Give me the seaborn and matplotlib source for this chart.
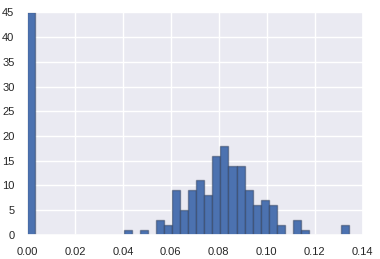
import numpy as np
import pandas as pd
import matplotlib
matplotlib.use("Agg")
import matplotlib.pyplot as plt
import seaborn as sns

# Histogram data (40 bins over 0 .. 0.1345)
bin_width = 0.1345 / 40
bin_index = [0, 12, 14, 16, 17, 18, 19, 20, 21, 22, 23, 24, 25, 26, 27, 28, 29, 30, 31, 33, 34, 39]
counts = [45, 1, 1, 3, 2, 9, 5, 9, 11, 8, 16, 18, 14, 14, 9, 6, 7, 6, 2, 3, 1, 2]
x_ticks = [0.00, 0.02, 0.04, 0.06, 0.08, 0.10, 0.12, 0.14]
y_ticks = [0, 5, 10, 15, 20, 25, 30, 35, 40, 45]

centers = (np.array(bin_index) + 0.5) * bin_width
df = pd.DataFrame({"value": centers, "count": counts})

sns.set_theme(style="darkgrid")
plt.rcParams["font.family"] = ["Liberation Sans", "DejaVu Sans"]

fig = plt.figure(figsize=(3.8, 2.59), dpi=100)
ax = fig.add_axes([0.071, 0.094, 0.883, 0.858])
sns.histplot(data=df, x="value", weights="count", bins=40, binrange=(0, 0.1345),
             ax=ax, color="#4C72B0", alpha=1.0,
             edgecolor=(0.15, 0.2, 0.3, 0.45), linewidth=1.0)
ax.set_xlim(0, 0.14)
ax.set_ylim(0, 45)
ax.set_xticks(x_ticks)
ax.set_xticklabels([f"{v:.2f}" for v in x_ticks])
ax.set_yticks(y_ticks)
ax.set_xlabel("")
ax.set_ylabel("")
ax.tick_params(labelsize=8, colors="#262626", pad=3)
fig.savefig("out.png", dpi=100)
